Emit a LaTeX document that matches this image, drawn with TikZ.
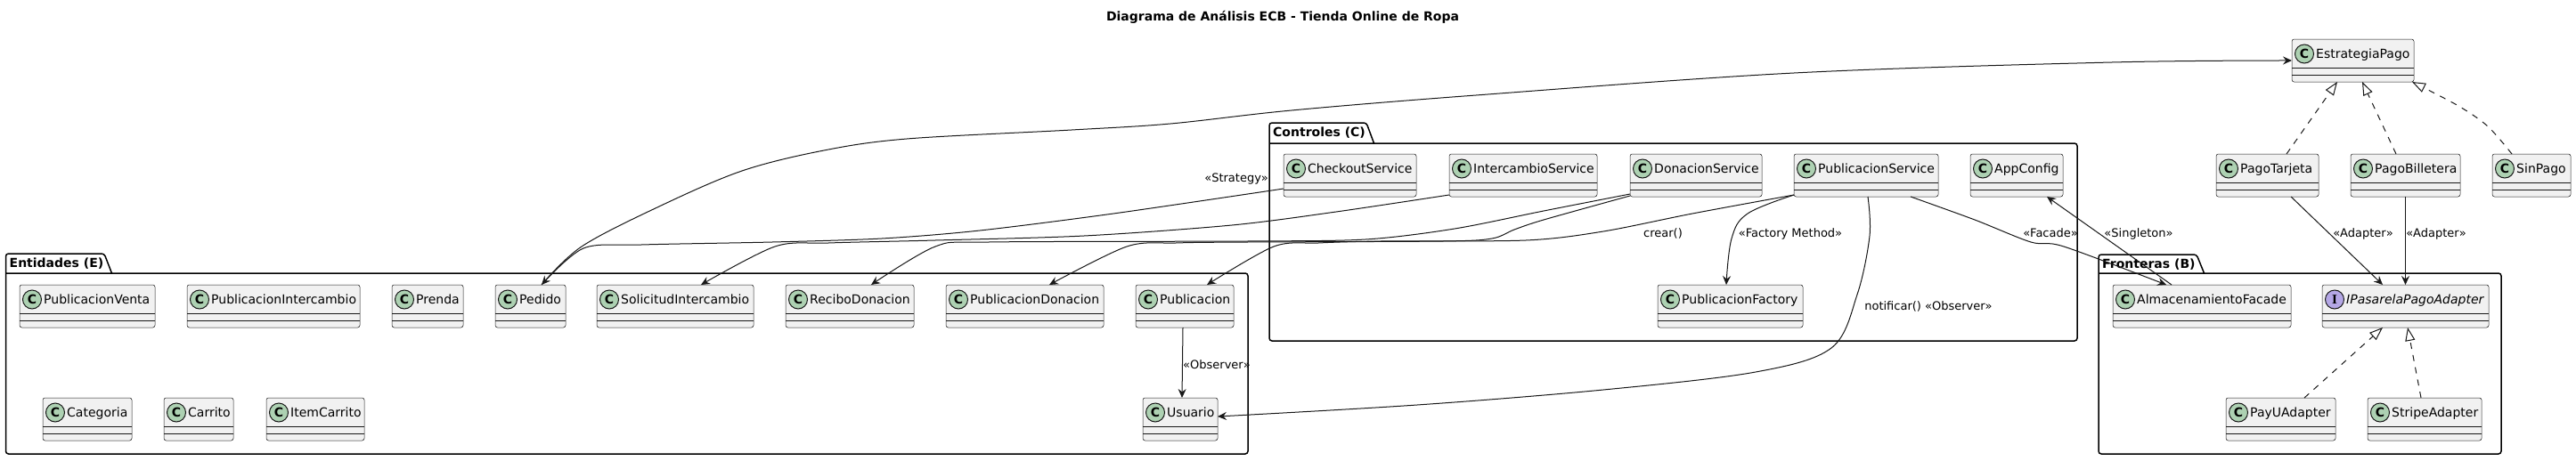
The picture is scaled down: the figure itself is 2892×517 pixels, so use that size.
\documentclass[tikz,border=0pt]{standalone}
\usepackage{fontspec}
\setmainfont{DejaVu Sans}
\newfontfamily\serifbold{Liberation Serif}
\usetikzlibrary{arrows.meta,calc}
\definecolor{clsfill}{HTML}{F1F1F1}
\definecolor{clsdraw}{HTML}{181818}
\definecolor{cgreen}{HTML}{ADD1B2}
\definecolor{ipurple}{HTML}{B4A7E5}
\tikzset{
  clsbox/.style={draw=clsdraw, fill=clsfill, line width=0.5pt, rounded corners=2.5pt, inner sep=0pt, outer sep=0pt},
  clsline/.style={draw=clsdraw, line width=0.5pt},
  badge/.style={circle, draw=clsdraw, line width=1pt, minimum size=21pt, inner sep=0pt, font=\fontsize{14}{14}\selectfont\bfseries},
  clsname/.style={anchor=base west, inner sep=0pt, font=\fontsize{14}{16}\selectfont},
  pkgline/.style={draw=black, line width=1.5pt, rounded corners=3pt},
  pkgname/.style={anchor=base west, inner sep=0pt, font=\fontsize{14}{16}\selectfont\bfseries},
  rel/.style={draw=clsdraw, line width=1pt, -{Stealth[length=10pt,width=9pt,inset=3.5pt]}},
  real/.style={draw=clsdraw, line width=1pt, dash pattern=on 7pt off 7pt, -{Triangle[length=15pt,width=11pt,fill=white]}},
  lbl/.style={anchor=base, inner sep=0pt, font=\fontsize{13}{15}\selectfont},
}
% #1 name, #2 x1, #3 x2, #4 top, #5 text
\newcommand{\uclass}[5]{%
  \node[clsbox, anchor=north west, minimum width=#3-#2, minimum height=48] (#1) at (#2,#4) {};
  \draw[clsline] ([yshift=-32pt]#1.north west) -- ([yshift=-32pt]#1.north east);
  \draw[clsline] ([yshift=-40pt]#1.north west) -- ([yshift=-40pt]#1.north east);
  \node[badge, fill=cgreen] (#1-b) at ([xshift=14pt,yshift=-16.5pt]#1.north west) {C};
  \node[clsname] (#1-t) at ([xshift=27pt,yshift=-21.5pt]#1.north west) {#5};
}
\newcommand{\uiface}[5]{%
  \node[clsbox, anchor=north west, minimum width=#3-#2, minimum height=48] (#1) at (#2,#4) {};
  \draw[clsline] ([yshift=-32pt]#1.north west) -- ([yshift=-32pt]#1.north east);
  \draw[clsline] ([yshift=-40pt]#1.north west) -- ([yshift=-40pt]#1.north east);
  \node[badge, fill=ipurple, font=\fontsize{15}{15}\selectfont\serifbold\bfseries] (#1-b) at ([xshift=14pt,yshift=-16.5pt]#1.north west) {I};
  \node[clsname, font=\fontsize{14}{16}\selectfont\itshape] (#1-t) at ([xshift=27pt,yshift=-21.5pt]#1.north west) {#5};
}
% #1 name, #2 x0, #3 ytab, #4 xtabR, #5 ybody, #6 x1, #7 ybot, #8 label
\newcommand{\upkg}[8]{%
  \draw[pkgline] (#2,#5) -- (#6,#5) -- (#6,#7) -- (#2,#7) -- (#2,#3) -- (#4,#3) -- (#4+8.5,#5);
  \node[pkgname] (#1) at (#2+4,#3+15) {#8};
}
\begin{document}
\begin{tikzpicture}[x=1pt,y=-1pt]
\useasboundingbox (0,0) rectangle (2892,517);
\fill[white] (0,0) rectangle (2892,517);

\node[anchor=base, inner sep=0pt, font=\fontsize{14}{16}\selectfont\bfseries] (title) at (1440,23) {Diagrama de Análisis ECB - Tienda Online de Ropa};

% packages
\upkg{pkgE}{6.5}{285}{117}{307}{1401}{510}{Entidades (E)}
\upkg{pkgC}{1425}{138}{1534}{161}{2332}{383}{Controles (C)}
\upkg{pkgB}{2356}{286}{2466}{307}{2808}{510}{Fronteras (B)}

% Entidades
\uclass{pubventa}{22}{174}{320}{PublicacionVenta}
\uclass{pubinter}{210}{404}{320}{PublicacionIntercambio}
\uclass{prenda}{440}{520}{320}{Prenda}
\uclass{pedido}{556}{635}{320}{Pedido}
\uclass{solic}{670}{846}{320}{SolicitudIntercambio}
\uclass{recibo}{882}{1026}{320}{ReciboDonacion}
\uclass{pubdon}{1062}{1239}{320}{PublicacionDonacion}
\uclass{pub}{1275}{1385}{320}{Publicacion}
\uclass{categoria}{48}{148}{447}{Categoria}
\uclass{carrito}{184}{262}{447}{Carrito}
\uclass{item}{299}{409}{447}{ItemCarrito}
\uclass{usuario}{1283}{1367}{447}{Usuario}

% Controles
\uclass{checkout}{1441}{1590}{173}{CheckoutService}
\uclass{inter}{1627}{1793}{173}{IntercambioService}
\uclass{don}{1830}{1978}{173}{DonacionService}
\uclass{pubserv}{2014}{2176}{173}{PublicacionService}
\uclass{appcfg}{2212}{2316}{173}{AppConfig}
\uclass{factory}{1861}{2024}{320}{PublicacionFactory}

% Estrategia
\uclass{estr}{2573}{2710}{44}{EstrategiaPago}
\uclass{tarjeta}{2488}{2603}{173}{PagoTarjeta}
\uclass{billetera}{2639}{2762}{173}{PagoBilletera}
\uclass{sinpago}{2798}{2886}{173}{SinPago}

% Fronteras
\uclass{facade}{2372}{2572}{320}{AlmacenamientoFacade}
\uiface{ipas}{2607}{2794}{320}{IPasarelaPagoAdapter}
\uclass{payu}{2499}{2622}{447}{PayUAdapter}
\uclass{stripe}{2658}{2786}{447}{StripeAdapter}

% connectors
\draw[rel] plot[smooth, tension=0.55] coordinates {([xshift=12.5pt]pedido.north) (653,277) (740,232) (833,192) (925,169) (1018,156) (1203,146) (1314,139) (1450,124) (1657,107) (2014,82) (2371,70) (estr.west)};

\draw[rel] plot[smooth, tension=0.5] coordinates {([yshift=9pt]checkout.south west) (1250,240) (1100,259) (990,268) (867,272) (720,275) (655,279) ([xshift=12.5pt]pedido.north)};

\draw[rel] plot[smooth, tension=0.5] coordinates {([yshift=2pt]inter.south west) (1500,238) (1383,253) (1217,265) (1050,270) (930,273) (870,277) ([xshift=29pt]solic.north)};

\draw[rel] plot[smooth, tension=0.5] coordinates {([yshift=3pt]don.south west) (1733,237) (1633,257) (1533,269) (1400,271) (1110,272) (1050,277) ([xshift=24pt]recibo.north)};

\draw[rel] plot[smooth, tension=0.5] coordinates {([yshift=1pt]don.south west) (1733,247) (1700,258) (1675,268) (1620,271) (1400,272) (1320,273) (1265,277) ([xshift=27.5pt]pubdon.north)};

\draw[rel] plot[smooth, tension=0.5] coordinates {([yshift=2pt]pubserv.south west) (1900,240) (1800,260) (1713,270) (1550,271) (1480,273) (1430,277) ([xshift=25pt]pub.north)};

\draw[rel] plot[smooth, tension=0.6] coordinates {([yshift=2pt]pubserv.south west) (1962,240) (1944,268) ([xshift=-4.5pt]factory.north)};

\draw[rel] plot[smooth, tension=0.55] coordinates {([xshift=2pt]pubserv.south) (2099,265) (2085,331) (2056,391) (1971,418) (1800,438) (1591,455) ([yshift=3pt]usuario.east)};

\draw[rel] plot[smooth, tension=0.5] coordinates {([xshift=50pt]pubserv.south) (2217,247) (2280,272) (2317,277) ([xshift=-40pt]facade.north)};

\draw[rel] ([xshift=-34pt]facade.north) -- ([xshift=34pt]appcfg.south);
\draw[rel] ([xshift=-2pt]pub.south) -- ([xshift=2pt]usuario.north);
\draw[rel] ([xshift=26.5pt]tarjeta.south) -- ([xshift=-25.5pt]ipas.north);
\draw[rel] (billetera.south) -- (ipas.north);

\draw[real] ([xshift=21.5pt]tarjeta.north) -- ([xshift=-17.5pt]estr.south);
\draw[real] ([xshift=-10.5pt]billetera.north) -- ([xshift=10.5pt]estr.south);
\draw[real] plot[smooth, tension=0.5] coordinates {([xshift=-22pt]sinpago.north) (2793,142) (2760,119) ([xshift=66.5pt]estr.south)};
\draw[real] ([xshift=26.5pt]payu.north) -- ([xshift=-25.5pt]ipas.south);
\draw[real] ([xshift=-4pt]stripe.north) -- ([xshift=2.5pt]ipas.south);

% labels
\node[lbl] (lStrategy) at (1388,204) {«Strategy»};
\node[lbl] (lCrear) at (1867,266) {crear()};
\node[lbl] (lFactory) at (2010,266) {«Factory Method»};
\node[lbl] (lFacade) at (2302,266) {«Facade»};
\node[lbl] (lSingleton) at (2401,266) {«Singleton»};
\node[lbl] (lAdapter1) at (2653,266) {«Adapter»};
\node[lbl] (lAdapter2) at (2735,266) {«Adapter»};
\node[lbl] (lObserver) at (1366,414) {«Observer»};
\node[lbl] (lNotificar) at (2165,348) {notificar() «Observer»};
\end{tikzpicture}
\end{document}
